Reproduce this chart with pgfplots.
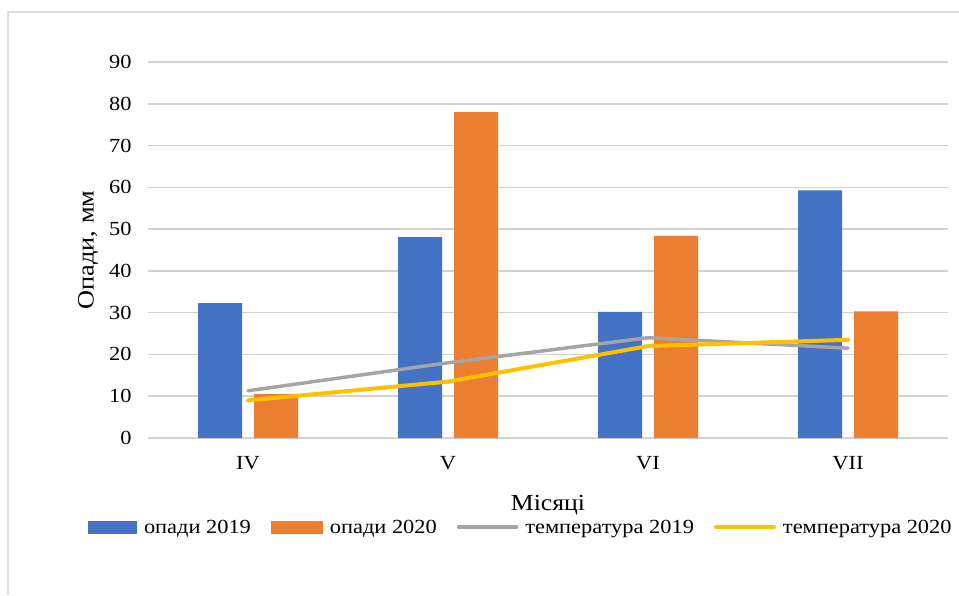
\documentclass[border=0pt]{standalone}
\usepackage{fontspec}
\setmainfont{Liberation Serif}[FakeStretch=1.12]
\usepackage{pgfplots}
\pgfplotsset{compat=1.18}
\definecolor{cblue}{HTML}{4472C4}
\definecolor{corange}{HTML}{ED7D31}
\definecolor{cgray}{HTML}{A5A5A5}
\definecolor{cyellow}{HTML}{FFC000}
\begin{document}
\begin{tikzpicture}[x=1pt,y=1pt]
\path[use as bounding box] (0,0) rectangle (959,595);
\draw[gray!25, line width=1.5pt] (8,0) -- (8,583) -- (959,583);
\begin{axis}[at={(148pt,157pt)}, anchor=south west, scale only axis,
  width=800pt, height=376pt,
  xmin=-0.5, xmax=3.5, ymin=0, ymax=90,
  ytick={0,10,...,90}, xtick={0,1,2,3}, xticklabels={IV,V,VI,VII},
  axis line style={draw=none}, major tick length=0pt,
  ymajorgrids, grid style={draw=gray!35, line width=1.5pt},
  font=\fontsize{20}{22}\selectfont,
  /pgf/number format/assume math mode=true,
  yticklabel style={xshift=-13pt},
  xticklabel style={yshift=-15pt},
  xlabel={Місяці}, ylabel={Опади, мм},
  xlabel style={at={(axis description cs:0.5,-0.178)}, anchor=center, font=\fontsize{23}{25}\selectfont},
  ylabel style={at={(axis description cs:-0.075,0.5)}, anchor=center, font=\fontsize{23.5}{25}\selectfont},
  clip=false,
  legend columns=4,
  legend style={at={(axis description cs:0.466,-0.237)}, anchor=center, draw=none, fill=none,
    font=\fontsize{20}{22}\selectfont,
    /tikz/every odd column/.append style={column sep=5pt},
    /tikz/every even column/.append style={column sep=18pt}},
]
\addplot[ybar, bar width=44pt, bar shift=-28pt, fill=cblue, draw=none,
  legend image code/.code={\fill[cblue] (0pt,-6.5pt) rectangle (49pt,6.5pt);}]
  coordinates {(0,32.3) (1,48.1) (2,30.2) (3,59.3)};
\addlegendentry{опади 2019}
\addplot[ybar, bar width=44pt, bar shift=28pt, fill=corange, draw=none,
  legend image code/.code={\fill[corange] (0pt,-6.5pt) rectangle (52pt,6.5pt);}]
  coordinates {(0,10.5) (1,78.0) (2,48.4) (3,30.3)};
\addlegendentry{опади 2020}
\addplot[cgray, line width=3.5pt, line cap=round,
  legend image code/.code={\draw[cgray, line width=3.5pt] (0pt,0pt) -- (58pt,0pt);}]
  coordinates {(0,11.3) (1,18.0) (2,24.0) (3,21.5)};
\addlegendentry{температура 2019}
\addplot[cyellow, line width=4pt, line cap=round,
  legend image code/.code={\draw[cyellow, line width=4pt] (0pt,0pt) -- (58pt,0pt);}]
  coordinates {(0,9.0) (1,13.5) (2,22.0) (3,23.5)};
\addlegendentry{температура 2020}
\end{axis}
\end{tikzpicture}
\end{document}
